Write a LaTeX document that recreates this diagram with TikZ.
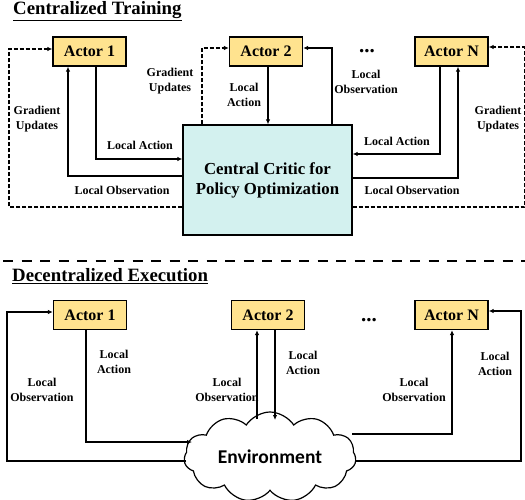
\documentclass[tikz,border=0pt]{standalone}
\usepackage{fontspec}
\setmainfont{Liberation Serif}
\newfontfamily\envfont{Carlito}
\usetikzlibrary{arrows.meta,shapes.symbols}
\definecolor{actorfill}{HTML}{FFE38F}
\definecolor{criticfill}{HTML}{D3F1EF}
\begin{document}
\begin{tikzpicture}[x=1pt,y=-1pt,
  actorbox/.style={draw,line width=1.3pt,fill=actorfill,minimum width=73pt,minimum height=29pt,inner sep=0pt,font=\fontsize{16}{18}\selectfont\bfseries},
  criticbox/.style={draw,line width=1.3pt,fill=criticfill,minimum width=169pt,minimum height=110pt,inner sep=0pt,align=center,font=\fontsize{16.8}{20}\selectfont\bfseries},
  lbl/.style={align=center,inner sep=0pt,font=\fontsize{12}{15}\selectfont\bfseries},
  ttl/.style={inner sep=0pt,anchor=west,font=\fontsize{18.8}{20}\selectfont\bfseries},
  dots/.style={inner sep=0pt,font=\fontsize{21}{22}\selectfont\bfseries},
  arr/.style={line width=1.2pt,-{Latex[length=5pt,width=4.5pt]}},
  darr/.style={line width=1.1pt,dash pattern=on 4pt off 2pt,-{Latex[length=5pt,width=4.5pt]}},
  sepline/.style={line width=2.5pt,dash pattern=on 10pt off 8.5pt},
  envcloud/.style={cloud,cloud puffs=11,cloud puff arc=115,aspect=2.1,draw,line width=1.2pt,fill=white,minimum width=172pt,minimum height=82pt,inner sep=0pt,font=\envfont\fontsize{19.5}{20}\selectfont\bfseries}
]
\useasboundingbox (0,0) rectangle (525,500);

% ---------- Centralized Training ----------
\node[ttl] (t1) at (13,11) {\underline{Centralized Training}};

\node[actorbox] (a1) at (89.5,51.5) {Actor 1};
\node[actorbox] (a2) at (266,51.5) {Actor 2};
\node[actorbox] (aN) at (451.5,51.5) {Actor N};
\node[dots] (d1) at (367,51) {...};
\node[criticbox] (cc) at (267.5,180) {Central Critic for\\Policy Optimization};

% Actor 1
\draw[arr] (a1.south -| 96,0) |- (cc.west |- 0,159);
\draw[arr] (cc.west |- 0,176) -| (a1.south -| 68,0);
\draw[darr] (cc.west |- 0,207) -| (9,49) -- (a1.west |- 0,49);
% Actor 2
\draw[darr] (cc.north -| 202,0) |- (a2.west |- 0,48);
\draw[arr] (a2.south -| 268,0) -- (cc.north -| 268,0);
\draw[arr] (cc.north -| 332,0) |- (a2.east |- 0,48);
% Actor N
\draw[arr] (aN.south -| 440,0) |- (cc.east |- 0,154);
\draw[arr] (cc.east |- 0,178) -| (aN.south -| 458,0);
\draw[darr] (cc.east |- 0,207) -| (524.5,47) -- (aN.east |- 0,47);

\node[lbl] (g1) at (37,119.5) {Gradient\\Updates};
\node[lbl] (la1) at (140,145) {Local Action};
\node[lbl] (lo1) at (122,190) {Local Observation};
\node[lbl] (g2) at (170,81.5) {Gradient\\Updates};
\node[lbl] (la2) at (244,94.5) {Local\\Action};
\node[lbl] (lo2) at (366,81.5) {Local\\Observation};
\node[lbl] (laN) at (397,141) {Local Action};
\node[lbl] (loN) at (412,190) {Local Observation};
\node[lbl] (gN) at (498,119.5) {Gradient\\Updates};

% separator
\coordinate (s1) at (3,261);
\coordinate (s2) at (525,261);
\draw[sepline] (s1) -- (s2);

% ---------- Decentralized Execution ----------
\node[ttl] (t2) at (12,276) {\underline{Decentralized Execution}};

\node[actorbox] (b1) at (90,315) {Actor 1};
\node[actorbox] (b2) at (268,315) {Actor 2};
\node[actorbox] (bN) at (451.5,315) {Actor N};
\node[dots] (d2) at (369,320) {...};
\node[envcloud] (env) at (270,457) {Environment};

\coordinate (e1) at (192,442);
\coordinate (e2) at (186,461);
\coordinate (e3) at (257,419);
\coordinate (e4) at (275,420);
\coordinate (e5) at (352,434);
\coordinate (e6) at (355,461);

\draw[arr] (b1.south -| 86,0) |- (e1);
\draw[arr] (e2) -| (7,312) -- (b1.west |- 0,312);
\draw[arr] (e3) -- (b2.south -| 257,0);
\draw[arr] (b2.south -| 275,0) -- (e4);
\draw[arr] (e5) -| (bN.south -| 452,0);
\draw[arr] (e6) -| (521,311) -- (bN.east |- 0,311);

\node[lbl] (m1) at (114,362) {Local\\Action};
\node[lbl] (m2) at (42,390) {Local\\Observation};
\node[lbl] (m3) at (227,389.5) {Local\\Observation};
\node[lbl] (m4) at (303,362.5) {Local\\Action};
\node[lbl] (m5) at (414,389.5) {Local\\Observation};
\node[lbl] (m6) at (495,364) {Local\\Action};
\end{tikzpicture}
\end{document}
